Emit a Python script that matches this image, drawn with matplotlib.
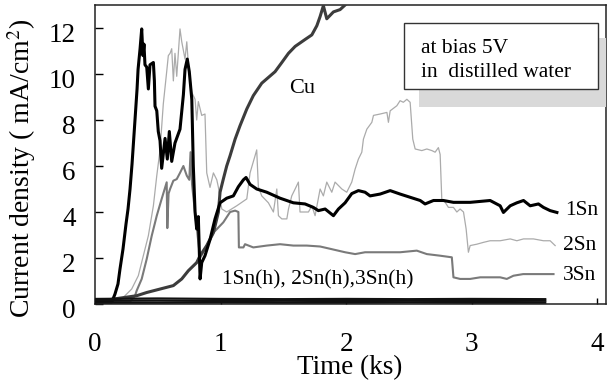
import matplotlib
matplotlib.use("Agg")
import matplotlib.pyplot as plt
from matplotlib.patches import Rectangle
from matplotlib.transforms import ScaledTranslation

plt.rcParams['font.family'] = ['Liberation Serif', 'DejaVu Serif']
plt.rcParams['mathtext.fontset'] = 'stix'

# ---- data: time (ks) and current density (mA/cm2) ----
t_1sn = [0.0, 0.135, 0.159, 0.183, 0.199, 0.223, 0.247, 0.263, 0.279, 0.295, 0.319, 0.335,
         0.343, 0.359, 0.372, 0.382, 0.390, 0.398, 0.412, 0.425, 0.438, 0.465, 0.473, 0.478,
         0.492, 0.504, 0.518, 0.531, 0.558, 0.576, 0.592, 0.611, 0.637, 0.677, 0.704, 0.717,
         0.735, 0.751, 0.771, 0.783, 0.797, 0.810, 0.823, 0.831, 0.837, 0.850, 0.876, 0.916,
         0.956, 0.996, 1.049, 1.102, 1.142, 1.182, 1.203, 1.235, 1.288, 1.368, 1.474, 1.580,
         1.673, 1.739, 1.779, 1.833, 1.899, 1.939, 1.992, 2.045, 2.098, 2.151, 2.191, 2.271,
         2.351, 2.430, 2.510, 2.590, 2.629, 2.696, 2.775, 2.855, 2.988, 3.147, 3.227, 3.253,
         3.307, 3.360, 3.413, 3.466, 3.532, 3.572, 3.625, 3.679]
j_1sn = [0.1, 0.1, 0.43, 0.87, 1.52, 2.39, 3.48, 4.13, 5.0, 6.09, 8.04, 9.35,
         10.2, 11.1, 11.96, 10.8, 11.3, 10.4, 10.3, 9.35, 10.4, 10.5, 9.7, 8.6,
         8.4, 7.5, 7.1, 5.9, 7.2, 6.3, 7.5, 6.2, 7.0, 7.6, 9.1, 10.2,
         10.65, 10.1, 8.9, 6.0, 4.0, 3.26, 3.8, 2.25, 1.09, 1.8, 2.1, 2.8,
         3.7, 4.4, 4.6, 4.7, 5.1, 5.4, 5.5, 5.2, 5.0, 4.86, 4.6, 4.4,
         4.35, 4.2, 4.06, 4.13, 3.84, 4.13, 4.4, 4.8, 4.93, 4.86, 4.7, 4.78,
         4.93, 4.78, 4.64, 4.5, 4.35, 4.5, 4.5, 4.42, 4.42, 4.5, 4.27, 3.98,
         4.27, 4.4, 4.5, 4.27, 4.35, 4.2, 4.06, 3.98]

t_2sn = [0.0, 0.183, 0.239, 0.292, 0.345, 0.385, 0.425, 0.465, 0.492, 0.518,
         0.544, 0.571, 0.584, 0.598, 0.611, 0.624, 0.637, 0.651, 0.677, 0.691,
         0.717, 0.731, 0.744, 0.771, 0.797, 0.810, 0.823, 0.850, 0.876, 0.890,
         0.916, 0.943, 0.970, 0.983, 0.996, 1.010, 1.049, 1.129, 1.209, 1.235,
         1.275, 1.288, 1.301, 1.328, 1.381, 1.421, 1.448, 1.461, 1.488, 1.528,
         1.541, 1.567, 1.594, 1.620, 1.633, 1.700, 1.727, 1.753, 1.793, 1.819,
         1.846, 1.886, 1.912, 1.966, 2.005, 2.045, 2.072, 2.098, 2.125, 2.138,
         2.165, 2.205, 2.218, 2.271, 2.325, 2.337, 2.351, 2.404, 2.430, 2.456,
         2.484, 2.510, 2.531, 2.550, 2.603, 2.643, 2.683, 2.709, 2.735, 2.749,
         2.762, 2.789, 2.815, 2.855, 2.882, 2.908, 2.935, 2.956, 2.974, 2.988,
         3.041, 3.094, 3.147, 3.227, 3.307, 3.360, 3.413, 3.492, 3.572, 3.625,
         3.665]
j_2sn = [0.1, 0.1, 0.36, 0.65, 1.23, 2.1, 2.97, 4.27, 5.58, 6.7,
         8.7, 10.1, 10.8, 10.9, 11.1, 9.7, 10.9, 9.9, 11.96, 11.4,
         10.65, 11.4, 10.4, 9.2, 8.9, 8.0, 8.8, 8.2, 8.26, 5.7,
         5.07, 5.7, 5.4, 5.07, 4.57, 4.13, 4.0, 4.27, 4.57, 5.7,
         6.45, 6.7, 5.1, 4.7, 4.4, 4.0, 5.0, 3.84, 3.7, 3.7,
         4.13, 4.7, 5.0, 5.3, 4.0, 4.0, 4.27, 3.84, 5.0, 4.7,
         5.3, 4.86, 5.3, 5.0, 4.86, 5.3, 5.87, 6.3, 6.6, 7.17,
         7.6, 7.9, 8.2, 8.26, 8.33, 7.9, 8.4, 8.62, 8.84, 8.77,
         8.9, 8.77, 7.17, 6.74, 6.67, 6.74, 6.67, 6.6, 6.8, 6.5,
         4.57, 4.42, 4.2, 4.2, 4.0, 4.13, 4.0, 3.26, 2.25, 2.54,
         2.6, 2.68, 2.75, 2.75, 2.83, 2.75, 2.83, 2.83, 2.75, 2.75,
         2.54]

t_3sn = [0.0, 0.279, 0.319, 0.332, 0.372, 0.412, 0.452, 0.492, 0.531, 0.571,
         0.576, 0.586, 0.598, 0.624, 0.651, 0.677, 0.704, 0.731, 0.751, 0.761,
         0.773, 0.785, 0.837, 0.890, 0.943, 1.022, 1.076, 1.116, 1.142, 1.146,
         1.182, 1.195, 1.261, 1.368, 1.474, 1.580, 1.687, 1.793, 1.873, 1.992,
         2.072, 2.151, 2.271, 2.430, 2.563, 2.643, 2.749, 2.842, 2.855, 2.908,
         2.988, 3.068, 3.147, 3.227, 3.280, 3.333, 3.410, 3.492, 3.572, 3.652]
j_3sn = [0.1, 0.1, 0.36, 0.58, 1.09, 1.96, 2.97, 3.84, 4.57, 5.29,
         3.3, 4.8, 5.0, 5.36, 5.43, 5.7, 6.0, 5.58, 5.4, 6.6,
         5.2, 4.57, 2.0, 2.54, 3.1, 3.55, 4.0, 4.06, 4.0, 2.46,
         2.46, 2.6, 2.46, 2.54, 2.6, 2.54, 2.54, 2.5, 2.4, 2.25,
         2.17, 2.25, 2.25, 2.25, 2.32, 2.17, 2.1, 2.03, 1.16, 1.09,
         1.09, 1.16, 1.16, 1.16, 1.09, 1.23, 1.3, 1.3, 1.3, 1.3]

t_cu = [0.0, 0.332, 0.412, 0.518, 0.624, 0.691, 0.744, 0.810, 0.837, 0.890, 0.943, 0.983,
        0.996, 1.022, 1.049, 1.076, 1.116, 1.155, 1.209, 1.261, 1.328, 1.381, 1.434, 1.488,
        1.541, 1.594, 1.673, 1.727, 1.767, 1.793, 1.819, 1.846, 1.899, 1.952, 1.992, 2.048]
j_cu = [0.1, 0.36, 0.5, 0.65, 0.8, 1.09, 1.45, 1.8, 2.1, 2.54, 3.1, 4.0,
        4.86, 5.43, 6.0, 6.45, 7.17, 7.75, 8.48, 9.06, 9.6, 9.85, 10.1, 10.5,
        10.9, 11.2, 11.5, 11.7, 12.1, 12.5, 12.97, 12.4, 12.7, 12.8, 13.0, 13.3]

# heat-treated samples stay near zero for the whole run
t_h = [0.0, 0.5, 1.0, 1.5, 2.0, 2.5, 3.0, 3.586]
j_1sn_h = [0.22, 0.24, 0.22, 0.21, 0.22, 0.21, 0.22, 0.21]
j_2sn_h = [0.14, 0.15, 0.13, 0.14, 0.13, 0.14, 0.13, 0.14]
j_3sn_h = [0.06, 0.06, 0.07, 0.06, 0.06, 0.07, 0.06, 0.06]

x_ticks = [0, 1, 2, 3, 4]
y_ticks = [0, 2, 4, 6, 8, 10, 12]

W, H = 614, 383
fig = plt.figure(figsize=(W / 100, H / 100), dpi=100)
ax = fig.add_axes([95 / W, 79 / H, 511 / W, 299 / H])

ax.plot(t_2sn, j_2sn, color='#ababab', lw=0.9, zorder=2)
ax.plot(t_3sn, j_3sn, color='#7a7a7a', lw=1.5, zorder=3)
ax.plot(t_cu, j_cu, color='#3c3c3c', lw=2.2, zorder=4)
ax.plot(t_1sn, j_1sn, color='#000000', lw=2.2, zorder=5)
for jh in (j_1sn_h, j_2sn_h, j_3sn_h):
    ax.plot(t_h, jh, color='#111111', lw=1.6, zorder=6)

ax.set_xlim(0, 4.07)
ax.set_ylim(0, 13.0)
ax.set_xticks(x_ticks)
ax.set_yticks(y_ticks)
ax.tick_params(axis='y', direction='in', length=6, width=1, pad=14, labelsize=19.5)
ax.tick_params(axis='x', direction='in', length=4, width=1, pad=20, labelsize=19.5)
for s in ax.spines.values():
    s.set_linewidth(1.1)
    s.set_color('#222222')

# y tick numbers sit a little below their tick marks
shift = ScaledTranslation(0, -4 / 100, fig.dpi_scale_trans)
for lab in ax.get_yticklabels():
    lab.set_transform(lab.get_transform() + shift)

fig.text(350 / W, 1 - 368 / H, 'Time (ks)', ha='center', va='center', fontsize=19.5)
fig.text(22 / W, 1 - 168 / H, 'Current density ( mA/cm$^{2}$)', rotation=90,
         ha='center', va='center', fontsize=20)

# curve labels
ax.text(1.649, 9.35, 'Cu', ha='center', va='center', fontsize=16)
ax.text(3.876, 4.07, '1Sn', ha='center', va='center', fontsize=15.5)
ax.text(3.857, 2.54, '2Sn', ha='center', va='center', fontsize=15.5)
ax.text(3.861, 1.24, '3Sn', ha='center', va='center', fontsize=15.5)
ax.text(1.777, 1.04, '1Sn(h), 2Sn(h),3Sn(h)', ha='center', va='center', fontsize=15.5)

# condition box with grey shadow
ax.add_patch(Rectangle((0.634, 0.659), 0.366, 0.231, transform=ax.transAxes,
                       facecolor='#d9d9d9', edgecolor='none', zorder=7, clip_on=False))
ax.add_patch(Rectangle((0.605, 0.719), 0.379, 0.221, transform=ax.transAxes,
                       facecolor='white', edgecolor='#333333', lw=1.0, zorder=8))
ax.text(0.638, 0.856, 'at bias 5V', transform=ax.transAxes, ha='left', va='center',
        fontsize=15.5, zorder=9)
ax.text(0.638, 0.773, 'in  distilled water', transform=ax.transAxes, ha='left',
        va='center', fontsize=15.5, zorder=9)

fig.savefig('out.png', dpi=100)
